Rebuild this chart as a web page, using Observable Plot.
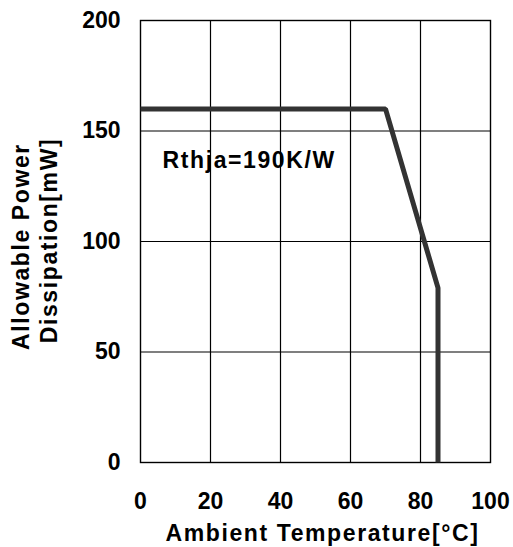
<!DOCTYPE html>
<html>
<head>
<meta charset="utf-8">
<script src="https://cdn.jsdelivr.net/npm/d3@7"></script>
<script src="https://cdn.jsdelivr.net/npm/@observablehq/plot@0.6"></script>
<style>
  html, body { margin: 0; padding: 0; background: #fff; }
  #chart svg { display: block; }
</style>
</head>
<body>
<div id="chart"></div>
<script>
// Data
const temperature = [0, 70, 85, 85];          // Ambient Temperature [°C]
const power = [160, 160, 79, 0];              // Allowable Power Dissipation [mW]
const xTicks = [0, 20, 40, 60, 80, 100];
const yTicks = [0, 50, 100, 150, 200];
const annotationText = ["Rthja=190K/W"];
const annotationX = [6.3];
const annotationY = [136.5];
const xLabel = "Ambient Temperature[°C]";
const yLabelLines = ["Allowable Power", "Dissipation[mW]"];

const curve = temperature.map((t, i) => ({t, p: power[i]}));
const notes = annotationText.map((s, i) => ({x: annotationX[i], y: annotationY[i], s}));

const font = "'Liberation Sans', Arial, Helvetica, sans-serif";

const chart = Plot.plot({
  width: 513,
  height: 547,
  marginLeft: 140,
  marginRight: 23,
  marginTop: 20,
  marginBottom: 85,
  style: {fontFamily: font, fontWeight: "bold", fontSize: "23px", color: "#000", background: "#fff"},
  x: {domain: [0, 100], ticks: xTicks, label: null},
  y: {domain: [0, 200], ticks: yTicks, label: null},
  marks: [
    Plot.gridX(xTicks.slice(1, -1), {stroke: "#000", strokeOpacity: 1, strokeWidth: 1.2}),
    Plot.gridY(yTicks.slice(1, -1), {stroke: "#000", strokeOpacity: 1, strokeWidth: 1.2}),
    Plot.frame({stroke: "#000", strokeWidth: 1.4}),
    Plot.axisX(xTicks, {tickSize: 0, tickPadding: 30, fontSize: 23, fill: "#000", label: null}),
    Plot.axisY(yTicks, {tickSize: 0, tickPadding: 20, fontSize: 23, fill: "#000", label: null}),
    Plot.line(curve, {x: "t", y: "p", stroke: "#333", strokeWidth: 5, strokeLinejoin: "miter", strokeLinecap: "butt"}),
    Plot.text(notes, {x: "x", y: "y", text: "s", textAnchor: "start", fontSize: 23, fontWeight: "bold", fill: "#000"}),
    Plot.text([xLabel], {frameAnchor: "bottom", textAnchor: "middle", lineAnchor: "middle", dy: 71, dx: 7, fontSize: 23, fontWeight: "bold", fill: "#000"}),
    Plot.text([yLabelLines[0]], {frameAnchor: "left", textAnchor: "middle", lineAnchor: "middle", rotate: -90, dx: -119, dy: 5, fontSize: 23, fontWeight: "bold", fill: "#000"}),
    Plot.text([yLabelLines[1]], {frameAnchor: "left", textAnchor: "middle", lineAnchor: "middle", rotate: -90, dx: -91, dy: -1, fontSize: 23, fontWeight: "bold", fill: "#000"})
  ]
});
d3.select(chart).selectAll("text").style("letter-spacing", "1.6px");
d3.select(chart).selectAll("g[aria-label='x-axis tick label'] text, g[aria-label='y-axis tick label'] text").style("letter-spacing", "0px");
document.getElementById("chart").appendChild(chart);
</script>
</body>
</html>
